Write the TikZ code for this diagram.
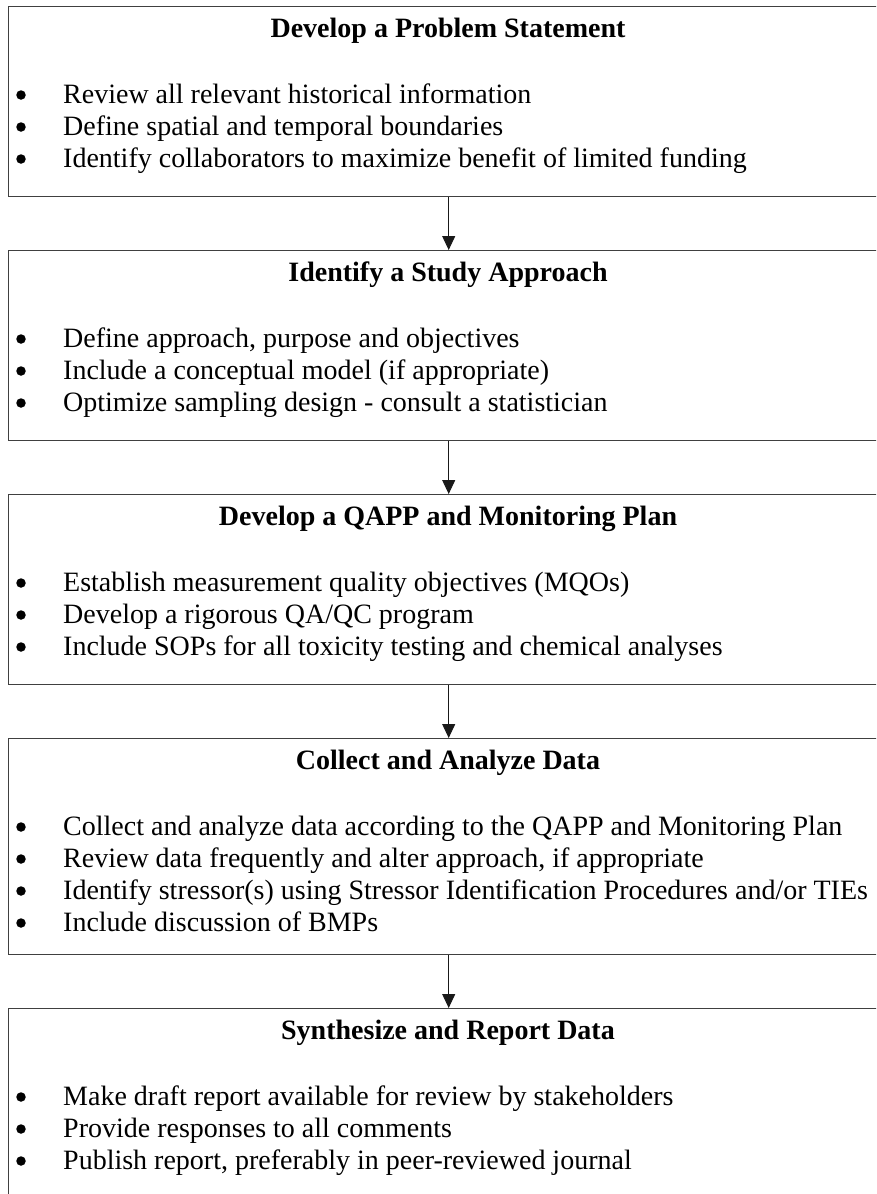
\documentclass[tikz,border=0pt]{standalone}
\usepackage{fontspec}
\setmainfont{Liberation Serif}
\usetikzlibrary{arrows.meta}
\begin{document}
\begin{tikzpicture}[x=1pt,y=-1pt,
  stage/.style={draw=black!75, line width=1.4pt, anchor=north west, minimum width=880pt, inner sep=0pt},
  ttl/.style={anchor=base, font=\fontsize{28}{33}\selectfont\bfseries, inner sep=0pt},
  itm/.style={anchor=base west, font=\fontsize{28}{33}\selectfont, inner sep=0pt},
  bul/.style={circle, fill=black, minimum size=9.5pt, inner sep=0pt, yshift=8pt},
  flow/.style={draw=black!90, line width=1pt, -{Triangle[length=14pt,width=13pt]}}]
\useasboundingbox (0,0) rectangle (876,1194);
\clip (0,0) rectangle (876,1194);
% boxes
\node[stage, minimum height=190pt] (b1) at (8,6) {};
\node[stage, minimum height=190pt] (b2) at (8,250) {};
\node[stage, minimum height=190pt] (b3) at (8,494) {};
\node[stage, minimum height=216pt] (b4) at (8,738) {};
\node[stage, minimum height=230pt] (b5) at (8,1008) {};
% connectors
\draw[flow] (b1.south) -- (b2.north);
\draw[flow] (b2.south) -- (b3.north);
\draw[flow] (b3.south) -- (b4.north);
\draw[flow] (b4.south) -- (b5.north);
% box 1
\node[ttl] (t1) at (448,37) {Develop a Problem Statement};
\node[bul] (p11) at (21,103) {};
\node[itm] (i11) at (63,103) {Review all relevant historical information};
\node[bul] (p12) at (21,135) {};
\node[itm] (i12) at (63,135) {Define spatial and temporal boundaries};
\node[bul] (p13) at (21,167) {};
\node[itm] (i13) at (63,167) {Identify collaborators to maximize benefit of limited funding};
% box 2
\node[ttl] (t2) at (448,281) {Identify a Study Approach};
\node[bul] (p21) at (21,347) {};
\node[itm] (i21) at (63,347) {Define approach, purpose and objectives};
\node[bul] (p22) at (21,379) {};
\node[itm] (i22) at (63,379) {Include a conceptual model (if appropriate)};
\node[bul] (p23) at (21,411) {};
\node[itm] (i23) at (63,411) {Optimize sampling design - consult a statistician};
% box 3
\node[ttl] (t3) at (448,525) {Develop a QAPP and Monitoring Plan};
\node[bul] (p31) at (21,591) {};
\node[itm] (i31) at (63,591) {Establish measurement quality objectives (MQOs)};
\node[bul] (p32) at (21,623) {};
\node[itm] (i32) at (63,623) {Develop a rigorous QA/QC program};
\node[bul] (p33) at (21,655) {};
\node[itm] (i33) at (63,655) {Include SOPs for all toxicity testing and chemical analyses};
% box 4
\node[ttl] (t4) at (448,769) {Collect and Analyze Data};
\node[bul] (p41) at (21,835) {};
\node[itm] (i41) at (63,835) {Collect and analyze data according to the QAPP and Monitoring Plan};
\node[bul] (p42) at (21,867) {};
\node[itm] (i42) at (63,867) {Review data frequently and alter approach, if appropriate};
\node[bul] (p43) at (21,899) {};
\node[itm] (i43) at (63,899) {Identify stressor(s) using Stressor Identification Procedures and/or TIEs};
\node[bul] (p44) at (21,931) {};
\node[itm] (i44) at (63,931) {Include discussion of BMPs};
% box 5
\node[ttl] (t5) at (448,1039) {Synthesize and Report Data};
\node[bul] (p51) at (21,1105) {};
\node[itm] (i51) at (63,1105) {Make draft report available for review by stakeholders};
\node[bul] (p52) at (21,1137) {};
\node[itm] (i52) at (63,1137) {Provide responses to all comments};
\node[bul] (p53) at (21,1169) {};
\node[itm] (i53) at (63,1169) {Publish report, preferably in peer-reviewed journal};
\end{tikzpicture}
\end{document}
